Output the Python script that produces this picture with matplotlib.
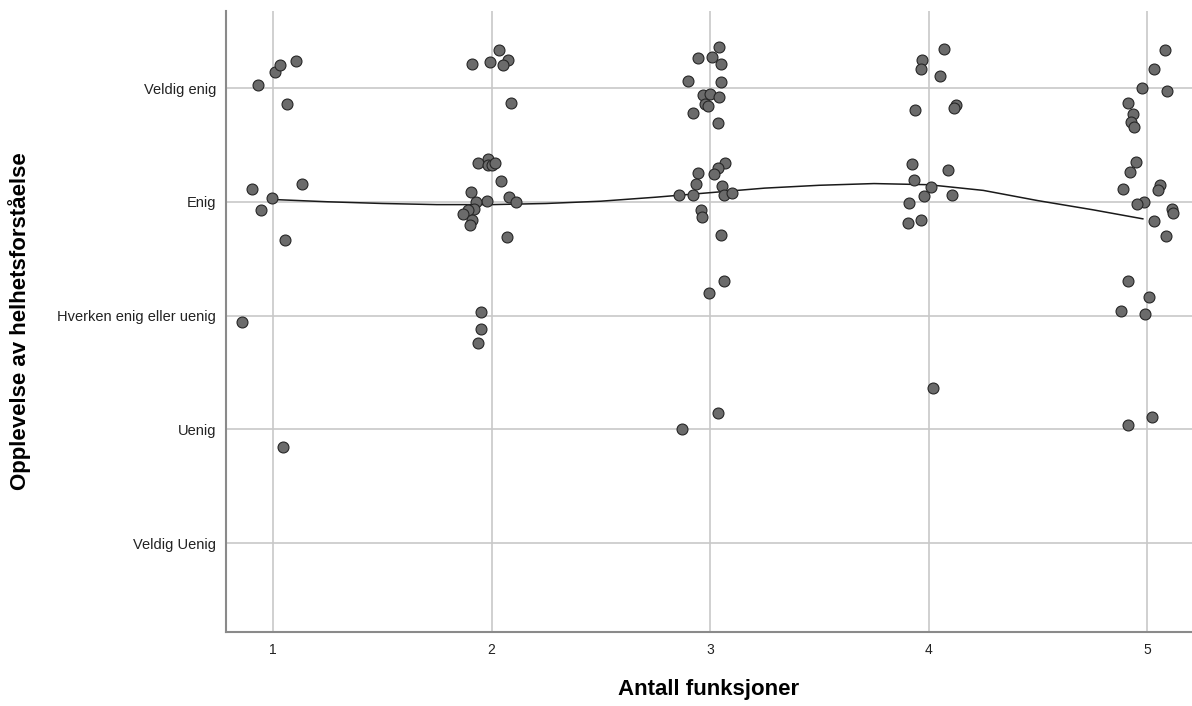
import matplotlib
matplotlib.use('Agg')
import matplotlib.pyplot as plt

# ── Axis categories ──────────────────────────────────────────────────────
X_TICKS = [1, 2, 3, 4, 5]
Y_TICKS = [1, 2, 3, 4, 5]
Y_LABELS = ['Veldig Uenig', 'Uenig', 'Hverken enig eller uenig', 'Enig', 'Veldig enig']

# ── Jittered scatter points ──────────────────────────────────────────────
x_g1 = [0.932, 1.008, 1.033, 1.106, 1.062, 0.906, 1.132, 0.995, 0.944, 1.055, 0.860, 1.046]
y_g1 = [5.03, 5.14, 5.20, 5.24, 4.86, 4.11, 4.16, 4.03, 3.93, 3.66, 2.94, 1.84]

x_g2 = [1.912, 1.992, 2.035, 2.076, 2.053, 2.087, 1.982, 1.939, 1.982, 2.000,
        2.017, 2.043, 1.904, 2.078, 2.111, 1.979, 1.929, 1.921, 1.894, 1.871,
        1.909, 1.903, 2.070, 1.951, 1.950, 1.938]
y_g2 = [5.21, 5.23, 5.33, 5.25, 5.20, 4.87, 4.38, 4.34, 4.32, 4.32,
        4.34, 4.18, 4.09, 4.04, 4.00, 4.01, 4.00, 3.94, 3.93, 3.89,
        3.84, 3.80, 3.69, 3.03, 2.88, 2.76]

x_g3 = [3.041, 2.946, 3.009, 3.048, 2.901, 3.048, 2.967, 3.000, 3.043, 2.978,
        2.991, 2.922, 3.036, 3.069, 3.036, 2.945, 3.017, 2.934, 3.054, 2.860,
        2.920, 3.062, 3.100, 2.957, 2.962, 3.050, 3.064, 2.995, 2.870, 3.035]
y_g3 = [5.36, 5.26, 5.27, 5.21, 5.06, 5.05, 4.94, 4.95, 4.92, 4.86,
        4.84, 4.78, 4.69, 4.34, 4.30, 4.25, 4.24, 4.16, 4.14, 4.06,
        4.06, 4.06, 4.08, 3.93, 3.87, 3.71, 3.30, 3.20, 2.00, 2.14]

x_g4 = [4.070, 3.968, 3.966, 4.053, 3.939, 4.125, 4.118, 3.925, 4.087, 3.932,
        4.013, 3.980, 4.105, 3.908, 3.904, 3.965, 4.021]
y_g4 = [5.34, 5.25, 5.17, 5.11, 4.81, 4.85, 4.82, 4.33, 4.28, 4.19,
        4.13, 4.05, 4.06, 3.99, 3.81, 3.84, 2.36]

x_g5 = [5.080, 5.031, 4.974, 5.090, 4.914, 4.936, 4.924, 4.941, 4.950, 4.922,
        4.888, 5.059, 5.048, 4.984, 4.952, 5.113, 5.116, 5.031, 5.085, 4.914,
        5.009, 4.881, 4.990, 5.020, 4.910]
y_g5 = [5.33, 5.17, 5.00, 4.97, 4.87, 4.77, 4.70, 4.66, 4.35, 4.26,
        4.11, 4.15, 4.10, 4.00, 3.98, 3.94, 3.90, 3.83, 3.70, 3.30,
        3.16, 3.04, 3.01, 2.11, 2.04]

# ── Fit line ─────────────────────────────────────────────────────────────
fit_x = [1.0, 1.25, 1.5, 1.75, 2.0, 2.25, 2.5, 2.75, 3.0, 3.25, 3.5, 3.75,
         4.0, 4.25, 4.5, 4.75, 4.98]
fit_y = [4.02, 4.00, 3.985, 3.975, 3.975, 3.985, 4.005, 4.04, 4.08, 4.12,
         4.145, 4.16, 4.15, 4.10, 4.01, 3.93, 3.85]

x_all = x_g1 + x_g2 + x_g3 + x_g4 + x_g5
y_all = y_g1 + y_g2 + y_g3 + y_g4 + y_g5

plt.rcParams['font.family'] = ['Liberation Sans', 'DejaVu Sans']

W, H = 1192, 706
AX_L, AX_B, AX_T = 226, 632, 11
fig = plt.figure(figsize=(W / 100, H / 100), dpi=100)
ax = fig.add_axes([AX_L / W, 1 - AX_B / H, 1 - AX_L / W, (AX_B - AX_T) / H])

grid_col = '#c8c8c8'
for v in X_TICKS:
    ax.axvline(v, color=grid_col, lw=1.2, zorder=1)
for v in Y_TICKS:
    ax.axhline(v, color=grid_col, lw=1.2, zorder=1)

ax.plot(fit_x, fit_y, color='#1a1a1a', lw=1.1, zorder=2)
ax.scatter(x_all, y_all, s=62, facecolor='#6b6b6b', edgecolor='#262626',
           linewidth=0.8, zorder=3)

ax.set_xlim(0.785, 5.205)
ax.set_ylim(0.218, 5.677)
ax.set_xticks(X_TICKS)
ax.set_yticks(Y_TICKS)
ax.set_yticklabels(Y_LABELS)
ax.tick_params(length=0, labelsize=10.5, colors='#222222', pad=7)
ax.tick_params(axis='x', labelsize=10, pad=8)

for side in ['top', 'right']:
    ax.spines[side].set_visible(False)
for side in ['left', 'bottom']:
    ax.spines[side].set_color('#8a8a8a')
    ax.spines[side].set_linewidth(1.5)

ax.set_xlabel('Antall funksjoner', fontsize=16, fontweight='bold')
ax.set_ylabel('Opplevelse av helhetsforståelse', fontsize=16, fontweight='bold')
ax_w = W - AX_L
ax_h = AX_B - AX_T
ax.xaxis.set_label_coords(0.5, -(690 - AX_B) / ax_h)
ax.xaxis.label.set_va('center')
ax.yaxis.set_label_coords(-(AX_L - 20) / ax_w, 0.5)
ax.yaxis.label.set_va('center')

plt.savefig('out.png', dpi=100)
plt.close()
